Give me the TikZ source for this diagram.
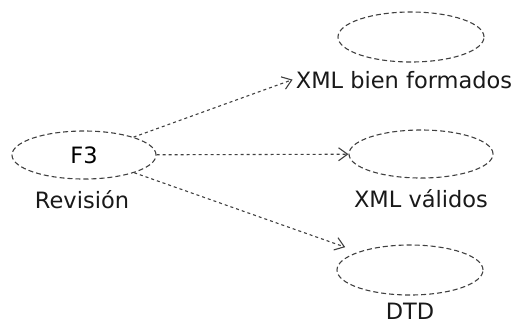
\documentclass[tikz,border=0pt]{standalone}
\usepackage{fontspec}
\setmainfont{DejaVu Sans}
\usetikzlibrary{shapes.geometric,arrows.meta}
\begin{document}
\begin{tikzpicture}[x=1pt,y=-1pt,
  usecase/.style={ellipse, draw=black!75, dash pattern=on 5pt off 3pt,
    line width=1.1pt, minimum width=144pt, minimum height=48pt, inner sep=0pt,
    font=\fontsize{22.5}{27}\selectfont},
  caption/.style={font=\fontsize{22.5}{27}\selectfont, text=black!90,
    anchor=base, inner sep=3pt},
  incl/.style={draw=black!75, line width=1.1pt, dash pattern=on 3pt off 3pt,
    -{Straight Barb[length=9pt,width=13pt]}}]
\useasboundingbox (0,0) rectangle (526,325);

% use cases
\node[usecase] (rev) at (84,155) {F3};
\node[usecase, minimum width=146pt, minimum height=50pt] (bien) at (411,37) {};
\node[usecase] (val) at (421,154) {};
\node[usecase, minimum width=146pt, minimum height=50pt] (dtd) at (410,270) {};

% captions
\node[caption] (revlab)  at (82,208)  {Revisión};
\node[caption] (bienlab) at (404,88)  {XML bien formados};
\node[caption] (vallab)  at (421,207) {XML válidos};
\node[caption] (dtdlab)  at (410,319) {DTD};

% include relations
\draw[incl] (rev) -- (bienlab.west);
\draw[incl] (rev) -- (val);
\draw[incl, shorten >=14pt] (rev) -- (dtd);
\end{tikzpicture}
\end{document}
